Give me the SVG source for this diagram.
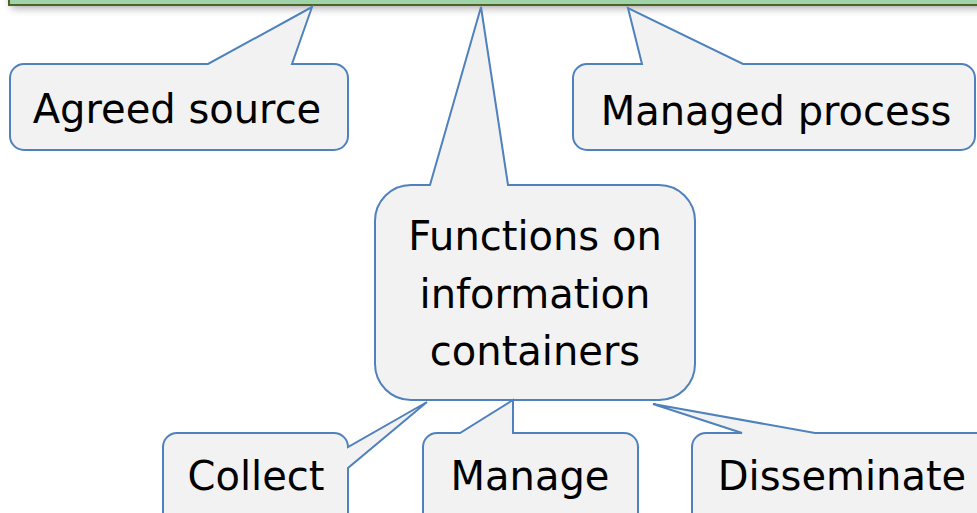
<svg xmlns="http://www.w3.org/2000/svg" width="977" height="513" viewBox="0 0 977 513">
  <defs>
    <filter id="shadow" x="-10%" y="-100%" width="120%" height="400%">
      <feGaussianBlur stdDeviation="4"/>
    </filter>
    <style>
      .callout { fill: #f2f2f2; stroke: #4f81bd; stroke-width: 2; stroke-linejoin: miter; }
      .label { font-family: "DejaVu Sans", "Liberation Sans", sans-serif; font-size: 40px; fill: #000; text-anchor: middle; }
    </style>
  </defs>
  <rect x="0" y="0" width="977" height="513" fill="#ffffff"/>

  <g id="top-bar">
    <rect x="11" y="-16" width="1000" height="24" fill="#000" opacity="0.35" filter="url(#shadow)"/>
    <rect x="9" y="-20" width="1000" height="25" fill="#9fd4a9" stroke="#4f6228" stroke-width="2"/>
  </g>

  <g id="connectors"></g>

  <g id="agreed-source">
    <path class="callout" d="M24,64 H208 L312,7 L292,64 H334 A14,14 0 0 1 348,78 V136 A14,14 0 0 1 334,150 H24 A14,14 0 0 1 10,136 V78 A14,14 0 0 1 24,64 Z"/>
    <text class="label" x="177" y="123">Agreed source</text>
  </g>

  <g id="managed-process">
    <path class="callout" d="M587,64 H642 L628,8 L743,64 H961 A14,14 0 0 1 975,78 V136 A14,14 0 0 1 961,150 H587 A14,14 0 0 1 573,136 V78 A14,14 0 0 1 587,64 Z"/>
    <text class="label" x="776" y="125">Managed process</text>
  </g>

  <g id="functions">
    <path class="callout" d="M411,185 H430 L481,7 L508,185 H659 A36,36 0 0 1 695,221 V364 A36,36 0 0 1 659,400 H411 A36,36 0 0 1 375,364 V221 A36,36 0 0 1 411,185 Z"/>
    <text class="label" x="535" y="250">Functions on</text>
    <text class="label" x="535" y="308">information</text>
    <text class="label" x="535" y="365">containers</text>
  </g>

  <g id="collect">
    <path class="callout" d="M177,433 H334 A14,14 0 0 1 348,447 L427,402 L348,468 V530 H163 V447 A14,14 0 0 1 177,433 Z"/>
    <text class="label" x="256" y="490">Collect</text>
  </g>

  <g id="manage">
    <path class="callout" d="M437,433 H460 L513,400 L513,433 H624 A14,14 0 0 1 638,447 V530 H423 V447 A14,14 0 0 1 437,433 Z"/>
    <text class="label" x="530" y="490">Manage</text>
  </g>

  <g id="disseminate">
    <path class="callout" d="M706,433 H742 L653,404 L815,433 H1000 V530 H692 V447 A14,14 0 0 1 706,433 Z"/>
    <text class="label" x="842" y="490">Disseminate</text>
  </g>
</svg>
